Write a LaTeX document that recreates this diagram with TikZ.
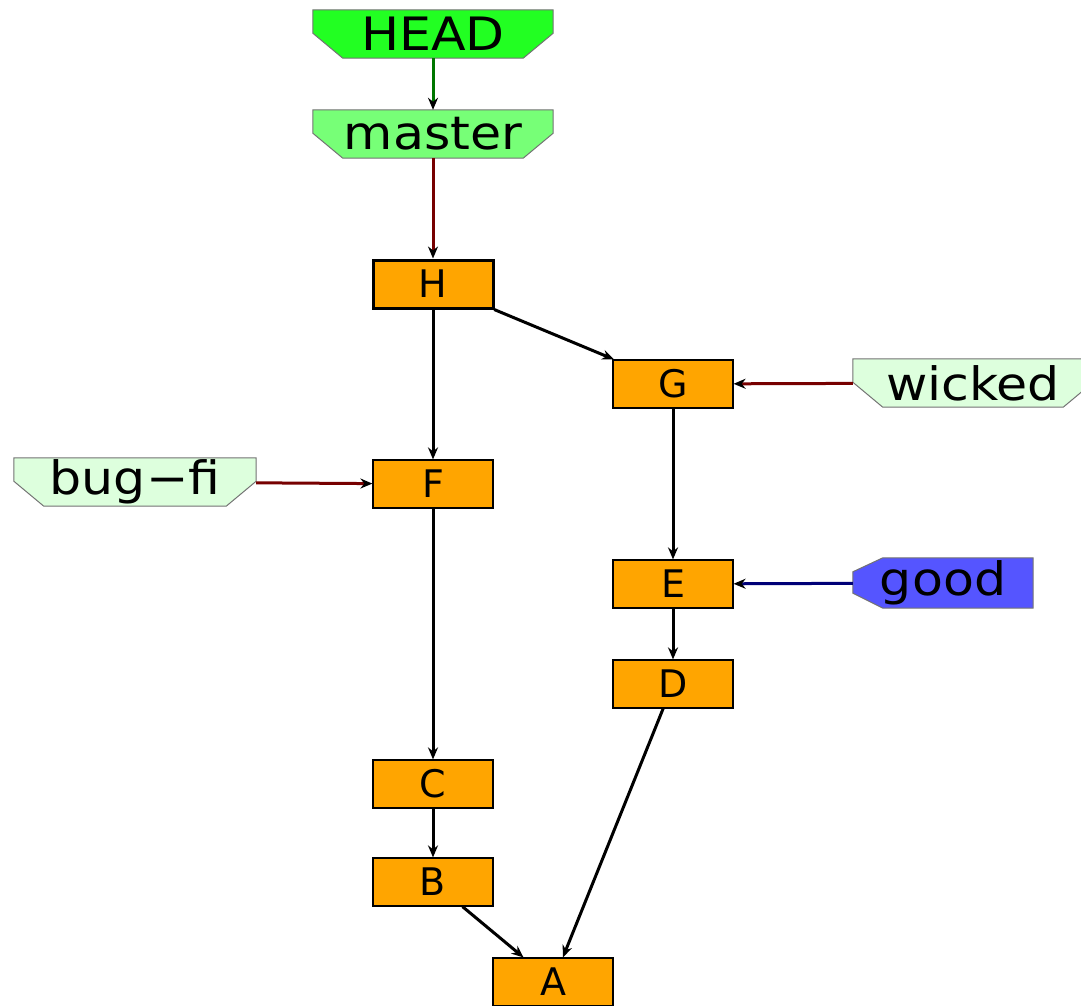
\documentclass[tikz,border=0pt]{standalone}
\usepackage{fontspec}
\setmainfont{DejaVu Sans}
\newfontfamily\tagfont[FakeStretch=1.1]{DejaVu Sans}
\usetikzlibrary{arrows.meta,backgrounds}
\definecolor{headgreen}{HTML}{22FF22}
\definecolor{mastergreen}{HTML}{77FF77}
\definecolor{branchgreen}{HTML}{DDFFDD}
\definecolor{goodblue}{HTML}{5555FF}
\definecolor{commitorange}{HTML}{FFA500}
\definecolor{refred}{HTML}{770000}
\definecolor{headline}{HTML}{007700}
\definecolor{refblue}{HTML}{000077}
\tikzset{
  commit/.style={draw=black,fill=commitorange,line width=1.2pt,minimum width=120pt,minimum height=48pt,inner sep=0pt,
    font=\fontsize{38}{42}\selectfont},
  ref/.style={minimum width=240pt,minimum height=48pt,inner sep=0pt,font=\tagfont\fontsize{46}{50}\selectfont},
  refline/.style={draw=black!55,line width=1pt},
  parent/.style={line width=3pt,-{Stealth[length=12pt,width=10pt]}},
  pointer/.style={line width=3pt,-{Stealth[length=12pt,width=10pt,color=black]}}
}
% ref tag with both lower corners cut off
\newcommand{\reftag}[2]{%
  \draw[refline,fill=#2] (#1.north west) -- (#1.north east) -- ([yshift=25pt]#1.south east)
    -- ([xshift=-30pt]#1.south east) -- ([xshift=30pt]#1.south west) -- ([yshift=25pt]#1.south west) -- cycle;}

\begin{document}
\begin{tikzpicture}[x=1pt,y=-1pt]
  \useasboundingbox (0,0) rectangle (1081,1005);
  \clip (0,0) rectangle (1081,1005);

  % refs
  \node[ref] (head) at (433,34) {HEAD};
  \node[ref] (master) at (433,134) {master};
  \node[ref] (wicked) at (973,383) {wicked};
  \node[ref,minimum width=242pt] (bugfi) at (135,482) {bug−fi};
  \node[ref,minimum width=180pt,minimum height=50pt] (good) at (943,583) {good};
  \begin{pgfonlayer}{background}
    \reftag{head}{headgreen}
    \reftag{master}{mastergreen}
    \reftag{wicked}{branchgreen}
    \reftag{bugfi}{branchgreen}
    \draw[refline,fill=goodblue] (good.north east) -- (good.south east) -- ([xshift=30pt]good.south west)
      -- ([yshift=15pt]good.south west) -- ([yshift=-14pt]good.north west) -- ([xshift=30pt]good.north west) -- cycle;
  \end{pgfonlayer}

  % commits
  \node[commit,line width=3pt] (H) at (433,284) {H};
  \node[commit] (G) at (673,384) {G};
  \node[commit] (F) at (433,484) {F};
  \node[commit] (E) at (673,584) {E};
  \node[commit] (D) at (673,684) {D};
  \node[commit] (C) at (433,784) {C};
  \node[commit] (B) at (433,882) {B};
  \node[commit] (A) at (553,982) {A};

  \draw[pointer,headline] (head) -- (master);
  \draw[pointer,refred] (master) -- (H);
  \draw[pointer,refred] (wicked) -- (G);
  \draw[pointer,refred] (bugfi) -- (F);
  \draw[pointer,refblue] (good) -- (E);

  \draw[parent] (H) -- (G);
  \draw[parent] (H) -- (F);
  \draw[parent] (G) -- (E);
  \draw[parent] (F) -- (C);
  \draw[parent] (E) -- (D);
  \draw[parent] (C) -- (B);
  \draw[parent] (B) -- (A);
  \draw[parent] (D) -- (A);
\end{tikzpicture}
\end{document}
